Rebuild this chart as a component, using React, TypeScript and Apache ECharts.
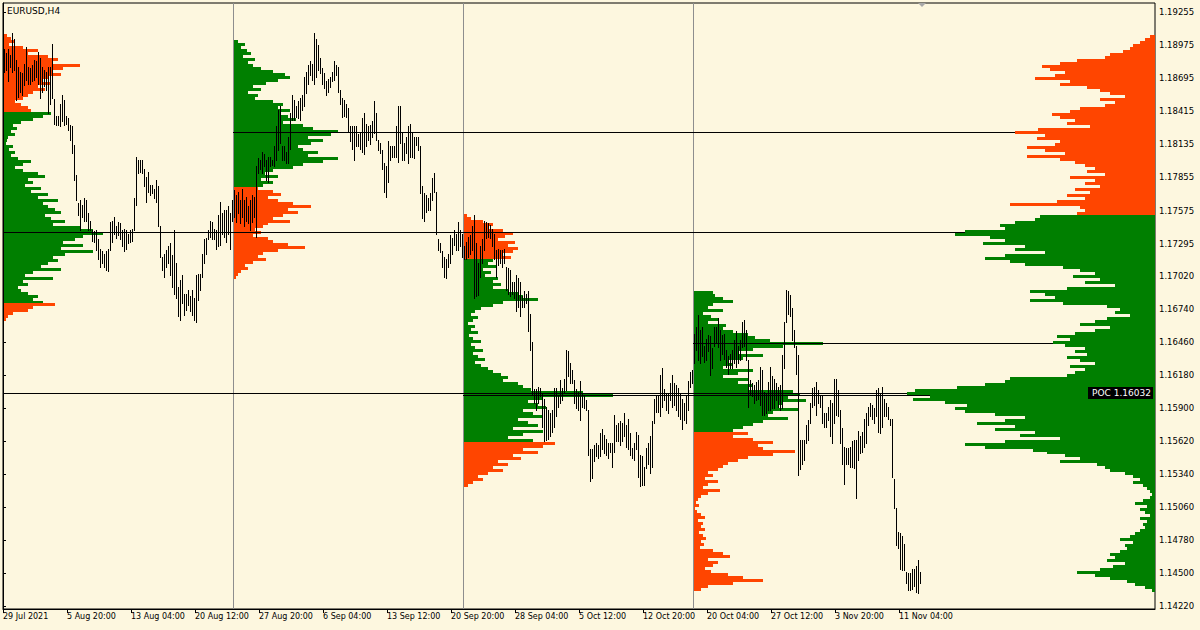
import React, { useEffect, useRef } from "react";
import * as echarts from "echarts";

// ---------- DATA ----------
const symbolLabel = "EURUSD,H4";

const timeLabels = [
  "29 Jul 2021", "5 Aug 20:00", "13 Aug 04:00", "20 Aug 12:00", "27 Aug 20:00",
  "6 Sep 04:00", "13 Sep 12:00", "20 Sep 20:00", "28 Sep 04:00", "5 Oct 12:00",
  "12 Oct 20:00", "20 Oct 04:00", "27 Oct 12:00", "3 Nov 20:00", "11 Nov 04:00",
];
// bar index of each time label (one label every 32 H4 bars)
const timeLabelBars = [0, 32, 64, 96, 128, 160, 192, 224, 256, 288, 320, 352, 384, 416, 448];

const priceTicks = [
  1.19255, 1.18975, 1.18695, 1.18415, 1.18135, 1.17855, 1.17575, 1.17295, 1.1702, 1.1674,
  1.1646, 1.1618, 1.159, 1.1562, 1.1534, 1.1506, 1.1478, 1.145, 1.1422,
];

// H4 bar highs / lows
const barHigh = [
  // section 1
  1.1894,1.1891,1.1894,1.1889,1.1908,1.1903,1.1885,1.1879,1.1875,1.1874,
  1.1882,1.1896,1.1879,1.1878,1.1881,1.1885,1.1884,1.1892,1.1887,1.1879,
  1.1877,1.1875,1.1879,1.1879,1.1899,1.1852,1.1838,1.1838,1.1848,1.1855,
  1.1851,1.1838,1.1836,1.1830,1.1829,1.1813,1.1788,1.1764,1.1766,1.1762,
  1.1768,1.1766,1.1755,1.1749,1.1741,1.1740,1.1741,1.1733,1.1725,1.1723,
  1.1721,1.1723,1.1725,1.1748,1.1749,1.1752,1.1744,1.1748,1.1747,1.1741,
  1.1742,1.1741,1.1738,1.1741,1.1742,1.1768,1.1803,1.1800,1.1800,1.1800,
  1.1793,1.1786,1.1790,1.1779,1.1779,1.1776,1.1783,1.1778,1.1744,1.1718,
  1.1721,1.1724,1.1727,1.1730,1.1720,1.1741,1.1713,1.1693,1.1699,1.1703,
  1.1687,1.1687,1.1690,1.1685,1.1690,1.1683,1.1703,1.1704,1.1704,1.1721,
  1.1733,1.1734,1.1741,1.1749,1.1748,1.1742,1.1741,1.1754,1.1765,1.1755,
  1.1758,1.1758,1.1761,1.1755,1.1766,
  // section 2
  1.1775,1.1771,1.1773,1.1766,1.1776,1.1766,1.1769,1.1761,1.1766,1.1771,
  1.1769,1.1795,1.1802,1.1800,1.1807,1.1805,1.1800,1.1803,1.1803,1.1800,
  1.1812,1.1829,1.1843,1.1846,1.1812,1.1812,1.1807,1.1820,1.1840,1.1855,
  1.1851,1.1846,1.1850,1.1853,1.1855,1.1871,1.1875,1.1881,1.1884,1.1882,
  1.1908,1.1903,1.1898,1.1887,1.1878,1.1874,1.1867,1.1869,1.1871,1.1875,
  1.1884,1.1881,1.1879,1.1860,1.1853,1.1851,1.1848,1.1844,1.1829,1.1829,
  1.1829,1.1829,1.1822,1.1824,1.1836,1.1840,1.1831,1.1829,1.1830,1.1833,
  1.1850,1.1840,1.1817,1.1815,1.1809,1.1798,1.1795,1.1816,1.1812,1.1812,
  1.1812,1.1829,1.1846,1.1846,1.1823,1.1815,1.1820,1.1829,1.1831,1.1824,
  1.1820,1.1820,1.1820,1.1812,1.1778,1.1772,1.1771,1.1768,1.1772,1.1785,
  1.1789,1.1773,1.1733,1.1730,1.1723,1.1718,1.1716,1.1721,1.1737,1.1734,
  1.1741,1.1738,1.1748,1.1741,1.1738,
  // section 3
  1.1727,1.1731,1.1735,1.1737,1.1744,1.1754,1.1730,1.1713,1.1727,1.1733,
  1.1749,1.1748,1.1747,1.1745,1.1742,1.1738,1.1724,1.1725,1.1724,1.1724,
  1.1725,1.1710,1.1709,1.1707,1.1697,1.1697,1.1703,1.1700,1.1697,1.1685,
  1.1689,1.1687,1.1689,1.1670,1.1646,1.1606,1.1606,1.1608,1.1607,1.1603,
  1.1598,1.1591,1.1588,1.1586,1.1588,1.1607,1.1607,1.1600,1.1614,1.1607,
  1.1615,1.1639,1.1638,1.1628,1.1622,1.1614,1.1606,1.1604,1.1613,1.1603,
  1.1600,1.1597,1.1588,1.1555,1.1555,1.1559,1.1560,1.1559,1.1569,1.1572,
  1.1567,1.1564,1.1560,1.1560,1.1560,1.1584,1.1576,1.1577,1.1579,1.1577,
  1.1586,1.1576,1.1581,1.1569,1.1556,1.1560,1.1570,1.1567,1.1550,1.1549,
  1.1540,1.1556,1.1560,1.1566,1.1579,1.1598,1.1600,1.1601,1.1618,1.1624,
  1.1606,1.1603,1.1603,1.1611,1.1618,1.1611,1.1610,1.1607,1.1603,1.1598,
  1.1594,1.1600,1.1613,1.1621,1.1622,
  // section 4
  1.1653,1.1659,1.1669,1.1656,1.1659,1.1643,1.1649,1.1652,1.1651,1.1641,
  1.1659,1.1659,1.1666,1.1656,1.1652,1.1653,1.1639,1.1634,1.1636,1.1639,
  1.1648,1.1655,1.1643,1.1648,1.1663,1.1665,1.1656,1.1631,1.1614,1.1611,
  1.1610,1.1612,1.1614,1.1625,1.1622,1.1604,1.1603,1.1612,1.1625,1.1617,
  1.1615,1.1611,1.1608,1.1610,1.1635,1.1663,1.1690,1.1689,1.1686,1.1675,
  1.1656,1.1643,1.1635,1.1563,1.1563,1.1563,1.1576,1.1580,1.1594,1.1607,
  1.1608,1.1612,1.1605,1.1600,1.1600,1.1586,1.1586,1.1591,1.1597,1.1594,
  1.1615,1.1615,1.1605,1.1588,1.1573,1.1557,1.1556,1.1556,1.1557,1.1562,
  1.1563,1.1563,1.1571,1.1566,1.1570,1.1581,1.1586,1.1591,1.1594,1.1593,
  1.1590,1.1605,1.1607,1.1603,1.1608,1.1598,1.1594,1.1591,1.1581,1.1581,
  1.1530,1.1505,1.1485,1.1484,1.1482,1.1475,1.1451,1.1450,1.1450,1.1454,
  1.1454,1.1456,1.1461,1.1451,
];

const barLow = [
  // section 1
  1.1875,1.1877,1.1867,1.1879,1.1875,1.1877,1.1851,1.1854,1.1858,1.1855,
  1.1864,1.1868,1.1865,1.1865,1.1867,1.1868,1.1871,1.1865,1.1853,1.1858,
  1.1863,1.1860,1.1840,1.1848,1.1853,1.1831,1.1830,1.1830,1.1829,1.1833,
  1.1830,1.1831,1.1826,1.1817,1.1806,1.1783,1.1766,1.1754,1.1741,1.1752,
  1.1749,1.1749,1.1741,1.1741,1.1732,1.1731,1.1724,1.1716,1.1710,1.1713,
  1.1710,1.1707,1.1706,1.1724,1.1731,1.1738,1.1734,1.1737,1.1733,1.1727,
  1.1723,1.1725,1.1730,1.1731,1.1732,1.1741,1.1762,1.1789,1.1790,1.1789,
  1.1778,1.1765,1.1773,1.1771,1.1772,1.1768,1.1765,1.1744,1.1718,1.1707,
  1.1701,1.1710,1.1713,1.1703,1.1693,1.1687,1.1683,1.1668,1.1665,1.1679,
  1.1669,1.1673,1.1677,1.1672,1.1669,1.1665,1.1663,1.1682,1.1690,1.1701,
  1.1713,1.1721,1.1733,1.1735,1.1733,1.1733,1.1725,1.1727,1.1728,1.1738,
  1.1735,1.1731,1.1738,1.1725,1.1749,
  // section 2
  1.1752,1.1748,1.1755,1.1747,1.1752,1.1744,1.1749,1.1747,1.1741,1.1748,
  1.1752,1.1735,1.1789,1.1793,1.1789,1.1795,1.1783,1.1782,1.1795,1.1796,
  1.1795,1.1800,1.1809,1.1815,1.1800,1.1800,1.1798,1.1798,1.1810,1.1834,
  1.1834,1.1837,1.1836,1.1834,1.1843,1.1846,1.1857,1.1865,1.1872,1.1868,
  1.1865,1.1871,1.1877,1.1874,1.1865,1.1861,1.1855,1.1858,1.1862,1.1867,
  1.1868,1.1872,1.1858,1.1848,1.1837,1.1838,1.1837,1.1824,1.1816,1.1810,
  1.1800,1.1812,1.1812,1.1810,1.1807,1.1805,1.1812,1.1817,1.1814,1.1820,
  1.1823,1.1817,1.1809,1.1806,1.1793,1.1773,1.1769,1.1782,1.1800,1.1803,
  1.1803,1.1803,1.1799,1.1815,1.1800,1.1800,1.1806,1.1798,1.1803,1.1803,
  1.1802,1.1813,1.1809,1.1772,1.1751,1.1749,1.1756,1.1758,1.1758,1.1766,
  1.1773,1.1738,1.1724,1.1722,1.1710,1.1701,1.1700,1.1710,1.1713,1.1721,
  1.1728,1.1724,1.1724,1.1727,1.1718,
  // section 3
  1.1716,1.1716,1.1718,1.1721,1.1724,1.1683,1.1685,1.1686,1.1701,1.1713,
  1.1724,1.1734,1.1735,1.1734,1.1727,1.1716,1.1701,1.1711,1.1713,1.1710,
  1.1713,1.1690,1.1687,1.1685,1.1687,1.1683,1.1672,1.1676,1.1668,1.1676,
  1.1676,1.1679,1.1655,1.1639,1.1601,1.1594,1.1588,1.1594,1.1600,1.1574,
  1.1562,1.1563,1.1564,1.1566,1.1570,1.1574,1.1583,1.1591,1.1594,1.1597,
  1.1604,1.1605,1.1617,1.1611,1.1611,1.1594,1.1590,1.1588,1.1580,1.1591,
  1.1590,1.1588,1.1550,1.1528,1.1531,1.1545,1.1549,1.1548,1.1549,1.1555,
  1.1552,1.1550,1.1548,1.1553,1.1540,1.1553,1.1562,1.1562,1.1559,1.1562,
  1.1566,1.1557,1.1555,1.1550,1.1548,1.1546,1.1555,1.1532,1.1524,1.1525,
  1.1525,1.1539,1.1543,1.1535,1.1540,1.1577,1.1587,1.1587,1.1583,1.1591,
  1.1597,1.1588,1.1586,1.1597,1.1591,1.1593,1.1588,1.1583,1.1581,1.1572,
  1.1580,1.1577,1.1588,1.1608,1.1611,
  // section 4
  1.1628,1.1639,1.1631,1.1628,1.1634,1.1629,1.1631,1.1638,1.1618,1.1624,
  1.1643,1.1645,1.1642,1.1631,1.1636,1.1632,1.1625,1.1619,1.1624,1.1624,
  1.1628,1.1625,1.1628,1.1631,1.1642,1.1643,1.1631,1.1591,1.1601,1.1600,
  1.1594,1.1597,1.1598,1.1593,1.1584,1.1584,1.1586,1.1588,1.1588,1.1590,
  1.1590,1.1597,1.1591,1.1588,1.1590,1.1624,1.1663,1.1670,1.1668,1.1648,
  1.1642,1.1619,1.1533,1.1538,1.1543,1.1546,1.1560,1.1563,1.1577,1.1591,
  1.1593,1.1584,1.1594,1.1591,1.1577,1.1574,1.1574,1.1580,1.1566,1.1560,
  1.1577,1.1584,1.1583,1.1560,1.1543,1.1526,1.1543,1.1543,1.1540,1.1540,
  1.1539,1.1514,1.1546,1.1552,1.1553,1.1557,1.1560,1.1576,1.1583,1.1581,
  1.1577,1.1583,1.1570,1.1569,1.1574,1.1583,1.1583,1.1581,1.1576,1.1532,
  1.1505,1.1474,1.1471,1.1454,1.1453,1.1453,1.1442,1.1436,1.1436,1.1437,
  1.1439,1.1434,1.1433,1.1442,
];

// period separators (bar index where each volume profile starts)
const sectionStarts = [0, 115, 230, 345];

// volume profiles: price of first (top) row, relative volume per row (row height = profileStep)
const profileStep = 0.000254;

const profile1Top = 1.1906;
const profile1Vol = [
  4,8,12,6,20,35,25,45,55,50, 77,60,50,58,45,40,48,35,42,30,
  25,20,12,18,25,28,48,40,30,18, 10,14,8,12,5,4,3,10,6,12,
  8,15,28,20,12,20,35,42,25,30, 22,38,28,45,35,55,40,45,52,58,
  42,48,62,50,78,90,100,80,72,60, 80,58,90,62,50,55,45,38,58,30,
  22,50,20,25,15,18,25,35,30,40, 52,30,25,10,5,3,
];
const profile1VA = [1.1678, 1.1841];

const profile2Top = 1.1901;
const profile2Vol = [
  5,12,8,14,18,10,22,15,20,28, 40,52,57,45,33,20,28,15,25,22,
  40,50,45,57,48,55,63,50,70,80, 105,98,75,90,78,65,70,85,75,105,
  90,70,60,40,32,45,28,40,30,25, 40,48,35,45,60,78,55,65,50,40,
  57,35,30,22,28,20,35,40,55,72, 45,30,25,33,20,12,15,8,5,3,
];
const profile2VA = [1.1778, 1.1910];

const profile3Top = 1.1753;
const profile3Vol = [
  4,8,20,30,25,40,50,42,35,52, 45,55,50,40,48,30,25,33,20,28,
  22,35,30,38,30,45,55,60,75,40, 30,18,12,8,15,10,5,12,8,15,
  6,10,18,8,12,20,10,15,22,12, 18,25,30,38,45,40,55,60,68,120,
  150,80,65,75,83,60,70,80,55,65, 75,50,80,60,45,70,92,80,60,75,
  50,58,35,45,30,40,25,15,20,10, 5,
];
const profile3VA = [1.1561, 1.1716];

const profile4Top = 1.1688;
const profile4Vol = [
  20,22,30,40,20,15,30,10,18,25, 15,33,30,40,55,62,77,130,90,60,
  45,70,50,35,40,30,60,45,30,55, 45,60,55,100,107,95,113,90,85,105,
  80,75,95,70,60,50,40,55,40,60, 80,65,70,102,80,55,45,35,30,25,
  15,20,12,25,15,10,27,15,8,5, 3,6,2,4,8,12,5,10,8,12,
  6,10,13,8,11,7,20,30,37,15, 25,20,12,18,35,50,70,40,15,8,
];
const profile4VA = [1.1569, 1.17];

// composite profile drawn from the right edge
const compositeTop = 1.1905;
const compositeVol = [
  5,10,15,22,25,32,45,50,78,95, 113,105,90,100,120,85,95,68,55,45,
  30,55,40,50,75,85,103,95,80,88, 65,117,140,110,118,95,100,128,110,90,
  128,95,80,70,60,68,50,85,60,70, 55,80,65,88,70,98,145,75,70,78,
  115,120,140,155,150,190,200,165,150,172, 130,140,110,150,170,145,130,92,75,60,
  82,55,70,40,88,125,110,100,125,92, 48,35,40,25,48,60,75,45,60,80,
  98,85,102,90,70,80,68,88,75,60, 85,70,80,88,145,150,170,198,240,248,
  225,242,210,188,200,190,160,130,150,178, 140,160,120,135,95,150,190,170,122,108,
  90,75,95,58,50,45,30,22,15,22, 12,8,5,3,5,12,20,8,15,10,
  5,15,8,12,10,15,20,25,35,22, 30,28,35,45,40,48,30,42,55,78,
  60,45,28,20,10,3,
];
const compositeVA = [1.14, 1.1753];

// point-of-control levels [price, first bar]
const pocPrices = [1.1739, 1.1824, 1.1601, 1.1645];
const pocFromBars = [0, 115, 230, 345];
const compositePoc = 1.16032;

// ---------- LAYOUT / STYLE ----------
const X_SLOTS = 576; // bar slots across the plot
const Y_MIN = 1.14197;
const Y_MAX = 1.19334;
const VOL_TO_BARS = 0.5;
const BG = "#FDF7DF";
const GREEN = "#007F00";
const RED = "#FF4500";
const FONT = "DejaVu Sans";

function buildRows(start: number, top: number, vol: number[], va: number[], dir: number) {
  return vol.map((v, k) => {
    const price = top - k * profileStep;
    const inVA = price >= va[0] && price <= va[1] ? 1 : 0;
    return [start, price, v, dir, inVA];
  });
}

const leftRows = [
  ...buildRows(sectionStarts[0], profile1Top, profile1Vol, profile1VA, 1),
  ...buildRows(sectionStarts[1], profile2Top, profile2Vol, profile2VA, 1),
  ...buildRows(sectionStarts[2], profile3Top, profile3Vol, profile3VA, 1),
  ...buildRows(sectionStarts[3], profile4Top, profile4Vol, profile4VA, 1),
];
const rightRows = buildRows(X_SLOTS, compositeTop, compositeVol, compositeVA, -1);

const barData = barHigh.map((h, i) => [i, barLow[i], h]);
const pocData = [
  ...pocPrices.map((p, i) => [pocFromBars[i], p]),
  [0, compositePoc],
];

function profileRender(params: any, api: any) {
  const start = api.value(0);
  const price = api.value(1);
  const vol = api.value(2);
  const dir = api.value(3);
  const inVA = api.value(4);
  const len = vol * VOL_TO_BARS;
  const a = api.coord([dir > 0 ? start : start - len, price + profileStep / 2]);
  const b = api.coord([dir > 0 ? start + len : start, price - profileStep / 2]);
  const x0 = Math.round(a[0]) + (dir > 0 ? 1 : 0);
  const x1 = Math.round(b[0]);
  const y0 = Math.round(a[1]);
  const y1 = Math.round(b[1]);
  return {
    type: "rect",
    shape: { x: x0, y: y0, width: Math.max(1, x1 - x0), height: Math.max(1, y1 - y0) },
    style: { fill: inVA ? GREEN : RED },
  };
}

const option: any = {
  animation: false,
  backgroundColor: BG,
  textStyle: { fontFamily: FONT },
  grid: { left: 3, right: 45, top: 3, bottom: 21, show: true, borderColor: "#000", borderWidth: 1 },
  xAxis: {
    type: "value",
    min: 0,
    max: X_SLOTS,
    position: "bottom",
    axisLine: { show: true, onZero: false, lineStyle: { color: "#000", width: 1 } },
    axisTick: { show: true, customValues: timeLabelBars, length: 4, lineStyle: { color: "#000" } },
    axisLabel: {
      show: true,
      customValues: timeLabelBars,
      formatter: (v: number) => {
        const k = timeLabelBars.indexOf(Math.round(v));
        return k >= 0 ? timeLabels[k] : "";
      },
      align: "left",
      margin: 3,
      fontSize: 8,
      fontFamily: FONT,
      color: "#000",
    },
    splitLine: { show: false },
  },
  yAxis: {
    type: "value",
    min: Y_MIN,
    max: Y_MAX,
    position: "right",
    axisLine: { show: true, lineStyle: { color: "#000", width: 1 } },
    axisTick: { show: true, customValues: priceTicks, length: 3, lineStyle: { color: "#000" } },
    axisLabel: {
      show: true,
      customValues: priceTicks,
      formatter: (v: number) => v.toFixed(5),
      margin: 4,
      fontSize: 8.5,
      fontFamily: FONT,
      color: "#000",
    },
    splitLine: { show: false },
  },
  graphic: [
    {
      type: "text",
      left: 7,
      top: 6,
      z: 100,
      style: { text: symbolLabel, font: `9px "${FONT}"`, fill: "#000" },
    },
    {
      type: "polygon",
      z: 100,
      shape: { points: [[918, 3], [926, 3], [922, 7]] },
      style: { fill: "#A8A8A8" },
    },
  ],
  series: [
    {
      type: "custom",
      name: "separators",
      z: 1,
      silent: true,
      data: sectionStarts.slice(1).map((s) => [s]),
      renderItem: (params: any, api: any) => {
        const cs = params.coordSys;
        const p = api.coord([api.value(0), Y_MAX]);
        const x = Math.round(p[0]) + 0.5;
        return {
          type: "line",
          shape: { x1: x, y1: cs.y, x2: x, y2: cs.y + cs.height },
          style: { stroke: "#8E8E8E", lineWidth: 1 },
        };
      },
    },
    {
      type: "custom",
      name: "profiles",
      z: 2,
      silent: true,
      data: leftRows,
      renderItem: profileRender,
    },
    {
      type: "custom",
      name: "poc",
      z: 3,
      silent: true,
      data: pocData,
      renderItem: (params: any, api: any) => {
        const a = api.coord([api.value(0), api.value(1)]);
        const b = api.coord([X_SLOTS, api.value(1)]);
        const y = Math.round(a[1]) + 0.5;
        return {
          type: "line",
          shape: { x1: Math.round(a[0]), y1: y, x2: Math.round(b[0]), y2: y },
          style: { stroke: "#000", lineWidth: 1 },
        };
      },
    },
    {
      type: "custom",
      name: "composite",
      z: 4,
      silent: true,
      data: rightRows,
      renderItem: profileRender,
    },
    {
      type: "custom",
      name: "bars",
      z: 5,
      silent: true,
      data: barData,
      renderItem: (params: any, api: any) => {
        const i = api.value(0);
        const hi = api.coord([i + 0.5, api.value(2)]);
        const lo = api.coord([i + 0.5, api.value(1)]);
        const x = Math.round(hi[0]) + 0.5;
        return {
          type: "line",
          shape: { x1: x, y1: Math.round(hi[1]), x2: x, y2: Math.round(lo[1]) + 1 },
          style: { stroke: "#000", lineWidth: 1 },
        };
      },
    },
    {
      type: "custom",
      name: "pocLabel",
      z: 6,
      silent: true,
      data: [[X_SLOTS, compositePoc]],
      renderItem: (params: any, api: any) => {
        const p = api.coord([api.value(0), api.value(1)]);
        const x = Math.round(p[0]);
        const y = Math.round(p[1]);
        return {
          type: "group",
          children: [
            { type: "rect", shape: { x: x - 67, y: y - 6, width: 65, height: 12 }, style: { fill: "#000" } },
            {
              type: "text",
              style: {
                text: "POC " + api.value(1).toFixed(5),
                x: x - 63,
                y: y,
                verticalAlign: "middle",
                fill: "#fff",
                font: `9px "${FONT}"`,
              },
            },
          ],
        };
      },
    },
  ],
};

export default function App() {
  const ref = useRef<HTMLDivElement>(null);
  useEffect(() => {
    if (!ref.current) return;
    const chart = echarts.init(ref.current, null, { renderer: "svg" });
    chart.setOption(option);
    return () => chart.dispose();
  }, []);
  return (
    <div
      ref={ref}
      style={{ position: "absolute", left: 0, top: 0, width: 1200, height: 630, background: BG }}
    />
  );
}
